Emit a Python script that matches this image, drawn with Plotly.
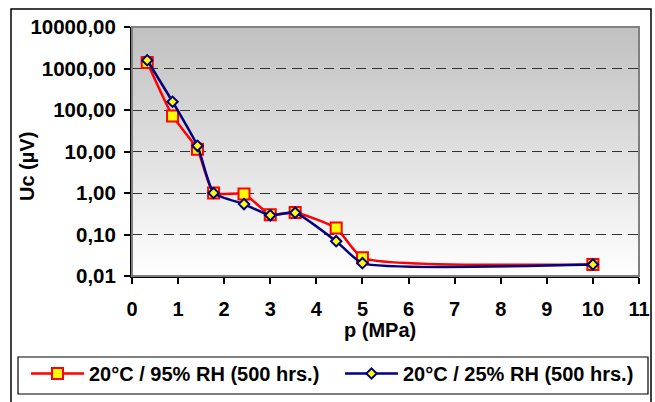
import base64
import plotly.graph_objects as go

# Data
pressure = [0.33, 0.88, 1.42, 1.77, 2.43, 3.0, 3.54, 4.43, 5.0, 10.0]
uc_95rh = [1400, 72, 11.4, 1.0, 0.95, 0.30, 0.34, 0.143, 0.0275, 0.019]
uc_25rh = [1580, 158, 13.7, 1.0, 0.54, 0.29, 0.335, 0.069, 0.0204, 0.019]
series_names = ["20°C / 95% RH (500 hrs.)", "20°C / 25% RH (500 hrs.)"]
y_tickvals = [0.01, 0.1, 1, 10, 100, 1000, 10000]
y_ticktext = ["0,01", "0,10", "1,00", "10,00", "100,00", "1000,00", "10000,00"]
x_tickvals = list(range(0, 12))

W, H = 655, 402
L, R, T, B = 132, 639, 27, 276
pw, ph = R - L, B - T

def px_x(p):
    return (p - L) / pw

def px_y(p):
    return (B - p) / ph

FONT = "Liberation Sans, Arial, sans-serif"

fig = go.Figure()
fig.add_trace(go.Scatter(
    x=pressure, y=uc_95rh, name=series_names[0], mode="lines+markers",
    line=dict(color="#ff0000", width=2.5, shape="spline", smoothing=0.5),
    marker=dict(symbol="square", size=11, color="#ffff00",
                line=dict(color="#ff0000", width=2)),
))
fig.add_trace(go.Scatter(
    x=pressure, y=uc_25rh, name=series_names[1], mode="lines+markers",
    line=dict(color="#000080", width=2.5, shape="spline", smoothing=0.5),
    marker=dict(symbol="diamond", size=8, color="#ffff00",
                line=dict(color="#000080", width=2)),
))

svg = ('<svg xmlns="http://www.w3.org/2000/svg" width="100" height="100" preserveAspectRatio="none">'
       '<defs><linearGradient id="g" x1="0" y1="0" x2="0" y2="1">'
       '<stop offset="0" stop-color="#c0c0c0"/><stop offset="1" stop-color="#ffffff"/>'
       '</linearGradient></defs><rect width="100" height="100" fill="url(#g)"/></svg>')
src = "data:image/svg+xml;base64," + base64.b64encode(svg.encode()).decode()

fig.update_layout(
    width=W, height=H,
    margin=dict(l=L, r=W - R, t=T, b=H - B, autoexpand=False),
    paper_bgcolor="white", plot_bgcolor="rgba(0,0,0,0)",
    font=dict(family=FONT, size=20, color="black", weight="bold"),
    images=[dict(source=src, xref="paper", yref="paper", x=0, y=1,
                 sizex=1, sizey=1, sizing="stretch", layer="below",
                 xanchor="left", yanchor="top")],
    xaxis=dict(range=[0, 11], tickvals=x_tickvals, showgrid=False,
               showline=True, linecolor="black", linewidth=2,
               ticks="outside", ticklen=6, tickcolor="black", tickwidth=1.5,
               tickfont=dict(size=20), ticklabelstandoff=8, zeroline=False),
    yaxis=dict(type="log", range=[-2, 4], tickvals=y_tickvals, ticktext=y_ticktext,
               showgrid=True, gridcolor="#333333", gridwidth=1.2, griddash="10px,6px",
               showline=True, linecolor="black", linewidth=2,
               ticks="outside", ticklen=6, tickcolor="black", tickwidth=1.5,
               tickfont=dict(size=20.5), ticklabelstandoff=4, zeroline=False),
    legend=dict(orientation="h", x=px_x(26), xanchor="left",
                y=px_y(354), yanchor="top",
                borderwidth=0, bgcolor="rgba(0,0,0,0)",
                font=dict(size=20), entrywidth=246, itemwidth=53),
    showlegend=True,
    shapes=[
        dict(type="rect", xref="paper", yref="paper", x0=0, x1=1, y0=0, y1=1,
             line=dict(color="#808080", width=2), layer="above"),
        dict(type="rect", xref="paper", yref="paper", x0=px_x(11), x1=px_x(651),
             y0=px_y(9), y1=px_y(420), line=dict(color="black", width=1.5)),
        dict(type="rect", xref="paper", yref="paper", x0=px_x(18), x1=px_x(648),
             y0=px_y(357), y1=px_y(394), line=dict(color="black", width=1.2),
             fillcolor="white", layer="below"),
    ],
    annotations=[
        dict(text="Uc (µV)", xref="paper", yref="paper",
             x=px_x(27), y=px_y(167), textangle=-90, showarrow=False,
             font=dict(size=20), xanchor="center", yanchor="middle"),
        dict(text="p (MPa)", xref="paper", yref="paper",
             x=px_x(380), y=px_y(330), showarrow=False,
             font=dict(size=20), xanchor="center", yanchor="middle"),
    ],
)
fig.update_xaxes(layer="above traces")
fig.update_yaxes(layer="above traces")

fig.write_html("out.html")
